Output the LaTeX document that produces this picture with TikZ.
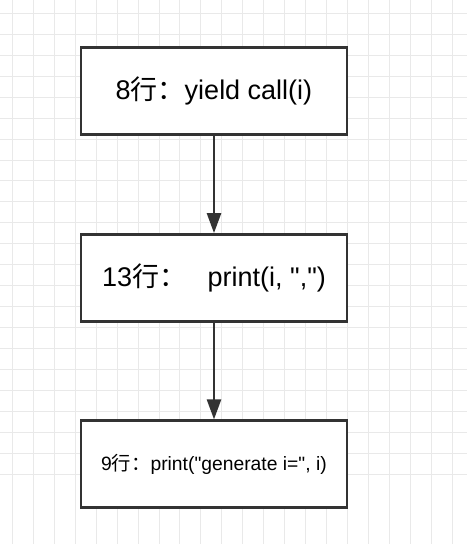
\documentclass[tikz,border=0pt]{standalone}
\usepackage{fontspec}
\setmainfont{Liberation Sans}[Ligatures=TeXOff]
\newfontfamily\cjk{Noto Sans CJK SC}
\usetikzlibrary{arrows.meta}
\definecolor{boxgray}{HTML}{333333}
\definecolor{gridgray}{HTML}{E9E9E9}
\begin{document}
\begin{tikzpicture}[x=1pt,y=-1pt,
  stepbox/.style={draw=boxgray,line width=2.8pt,fill=white,
    minimum width=266pt,minimum height=87pt,inner sep=0pt},
  flow/.style={draw=boxgray,line width=2.5pt,-{Triangle[length=20pt,width=14pt]}},
  gridline/.style={draw=gridgray,line width=0.9pt},
  bigtext/.style={font=\fontsize{27}{31}\selectfont},
  smalltext/.style={font=\fontsize{19.3}{23}\selectfont}]
  \useasboundingbox (0,0) rectangle (467,544);
  \fill[white] (0,0) rectangle (467,544);
  % background grid
  \foreach \k in {0,...,22} {
    \draw[gridline] (12.3+20.95*\k,0) -- (12.3+20.95*\k,544);
    \draw[gridline] (0,13.3+20.95*\k) -- (467,13.3+20.95*\k);
  }
  % steps
  \node[stepbox,bigtext] (b1) at (214,90.8) {8{\cjk 行：}yield call(i)};
  \node[stepbox,bigtext] (b2) at (214,278) {13{\cjk 行：}\hspace{0.8em}print(i, ",")};
  \node[stepbox,smalltext] (b3) at (214,464.3) {9{\cjk 行：}print("generate i=", i)};
  % connectors
  \draw[flow] (b1) -- (b2);
  \draw[flow] (b2) -- (b3);
\end{tikzpicture}
\end{document}
